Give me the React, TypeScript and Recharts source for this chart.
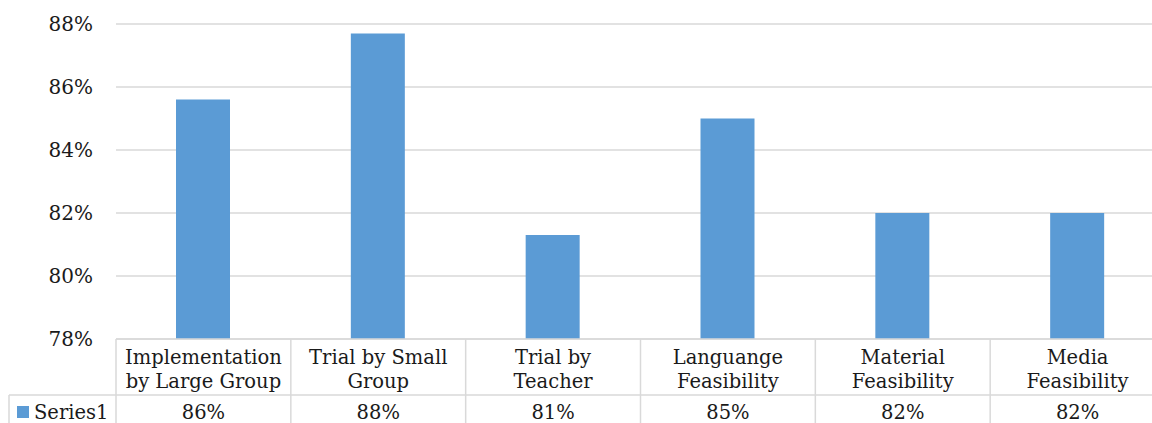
import { BarChart, Bar, XAxis, YAxis, CartesianGrid } from "recharts";

const categories = [
  "Implementation\nby Large Group",
  "Trial by Small\nGroup",
  "Trial by\nTeacher",
  "Languange\nFeasibility",
  "Material\nFeasibility",
  "Media\nFeasibility",
];

const values = [85.6, 87.7, 81.3, 85.0, 82.0, 82.0];

const yTicks = [78, 80, 82, 84, 86, 88];

const seriesName = "Series1";

const data = categories.map((name, i) => ({ name, value: values[i] }));

const FONT = "'DejaVu Serif', serif";
const TEXT = "#1a1a1a";
const GRID = "#d9d9d9";
const BLUE = "#5b9bd5";

const CHART_W = 1170;
const CHART_H = 423;
const Y_W = 116;
const M_RIGHT = 5;
const X_H = 84;

function TableTick(props: any) {
  const { x, y, payload, index } = props;
  const half =
    payload && typeof payload.offset === "number" && payload.offset > 0
      ? payload.offset
      : (CHART_W - Y_W - M_RIGHT) / categories.length / 2;
  const left = x - half;
  const right = x + half;
  const lines = String(payload.value).split("\n");
  const rowY = y + 56;

  return (
    <g fontFamily={FONT} fontSize={19.5} fill={TEXT}>
      <line x1={left} y1={y} x2={left} y2={y + 100} stroke={GRID} strokeWidth={1.5} />
      {index === categories.length - 1 && (
        <line x1={right} y1={y} x2={right} y2={y + 100} stroke={GRID} strokeWidth={1.5} />
      )}
      <line x1={left} y1={rowY} x2={right} y2={rowY} stroke={GRID} strokeWidth={1.5} />

      {lines.map((l, i) => (
        <text
          key={i}
          x={x}
          y={y + 18 + i * 24}
          textAnchor="middle"
          dominantBaseline="central"
          fill={TEXT}
        >
          {l}
        </text>
      ))}

      <text x={x} y={rowY + 17} textAnchor="middle" dominantBaseline="central" fill={TEXT}>
        {Math.round(values[index])}%
      </text>

      {index === 0 && (
        <g>
          <line x1={left - 107} y1={rowY} x2={left} y2={rowY} stroke={GRID} strokeWidth={1.5} />
          <line x1={left - 107} y1={rowY} x2={left - 107} y2={rowY + 60} stroke={GRID} strokeWidth={1.5} />
          <rect x={left - 99} y={rowY + 11} width={12} height={12} fill={BLUE} />
          <text x={left - 82} y={rowY + 17} dominantBaseline="central" fill={TEXT}>
            {seriesName}
          </text>
        </g>
      )}
    </g>
  );
}

export default function App() {
  return (
    <div
      style={{
        position: "fixed",
        left: 0,
        top: 0,
        width: 1152,
        height: 423,
        overflow: "hidden",
        background: "#fff",
      }}
    >
      <BarChart
        width={CHART_W}
        height={CHART_H}
        data={data}
        margin={{ top: 24, right: M_RIGHT, bottom: 0, left: 0 }}
      >
        <CartesianGrid vertical={false} stroke={GRID} strokeWidth={1.5} />

        <YAxis
          width={Y_W}
          domain={[78, 88]}
          ticks={yTicks}
          allowDataOverflow
          axisLine={false}
          tickLine={false}
          tickSize={0}
          tickMargin={23}
          tickFormatter={(v: number) => `${v}%`}
          tick={{ fontFamily: FONT, fontSize: 20, fill: TEXT }}
        />

        <XAxis
          dataKey="name"
          height={X_H}
          interval={0}
          axisLine={{ stroke: GRID, strokeWidth: 1.5 }}
          tickLine={false}
          tickSize={0}
          tickMargin={0}
          tick={<TableTick />}
        />

        <Bar
          dataKey="value"
          fill={BLUE}
          barSize={54}
          isAnimationActive={false}
        />
      </BarChart>
    </div>
  );
}
